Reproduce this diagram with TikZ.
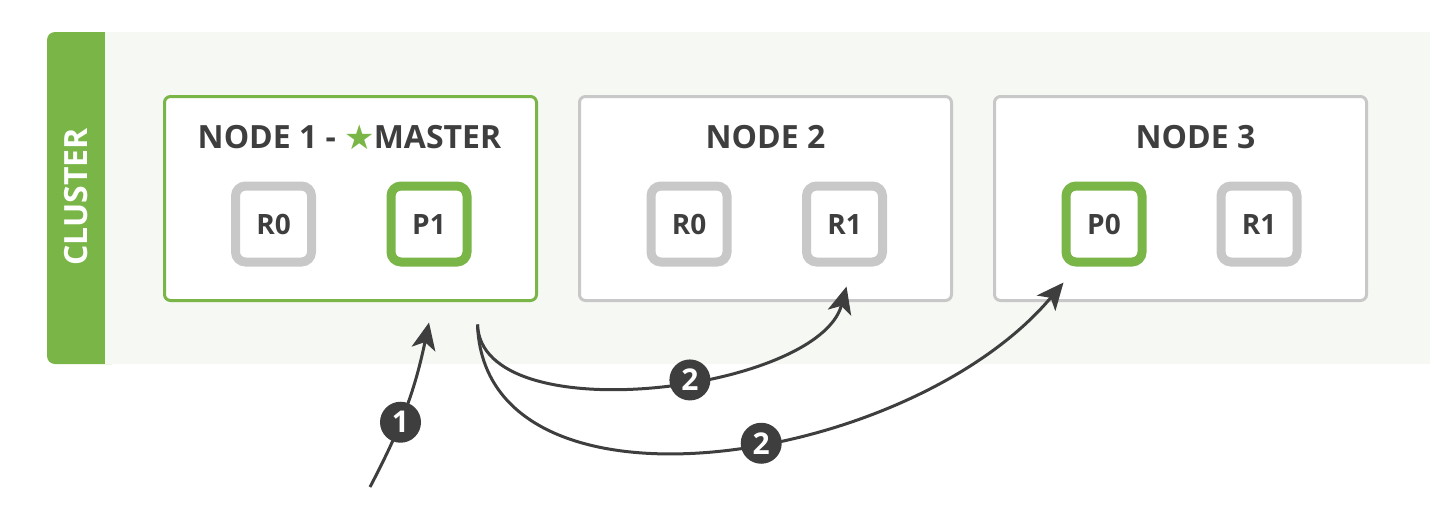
\documentclass[tikz,border=0pt]{standalone}
\usepackage{fontspec}
\setmainfont{Open Sans}
\newfontfamily\symfont{DejaVu Sans}
\usetikzlibrary{positioning,arrows.meta,calc}
\definecolor{esgreen}{RGB}{122,181,72}
\definecolor{esgrey}{RGB}{200,200,200}
\definecolor{esdark}{RGB}{62,62,62}
\definecolor{esbg}{RGB}{246,248,244}
\tikzset{
  fig/.style={font=\bfseries,text=esdark},
  nodebox/.style={draw=esgrey,line width=1.5pt,rounded corners=3pt,fill=white,
                  minimum width=186pt,minimum height=102pt},
  masterbox/.style={nodebox,draw=esgreen},
  shard/.style={draw=esgrey,line width=4.5pt,rounded corners=5pt,fill=white,
                minimum size=38pt,inner sep=0pt,
                font=\fontsize{14}{16}\selectfont\bfseries},
  primary/.style={shard,draw=esgreen},
  ttl/.style={font=\fontsize{16}{18}\selectfont\bfseries,inner sep=0pt},
  ln/.style={-{Stealth[length=13.5pt,width=12pt,inset=3.5pt]},line width=1.5pt,draw=esdark},
  num/.style={circle,fill=esdark,text=white,minimum size=20.5pt,inner sep=0pt,
              font=\fontsize{15}{15}\selectfont\bfseries},
}

\begin{document}
\begin{tikzpicture}[fig,x=0.5pt,y=0.5pt]

\useasboundingbox (0,0) rectangle (1438,-526);
\fill[esgreen,rounded corners=4pt] (47,-32) rectangle (120,-364);
\fill[esbg] (105,-32) rectangle (1430,-364);
\node[ttl,rotate=90,text=white] (clu) at (76,-197) {CLUSTER};

\node[masterbox] (n1) at (350.5,-198.5) {};
\node[nodebox,right=20pt of n1] (n2) {};
\node[nodebox,right=20pt of n2] (n3) {};

\node[ttl] (t1) at ($(n1.north)+(-1,-42)$) {NODE 1 - {\color{esgreen}\symfont\fontsize{17}{17}\selectfont\raisebox{-0.5pt}{★}}\kern-0.5pt MASTER};
\node[ttl] (t2) at ($(n2.north)+(0,-42)$) {NODE 2};
\node[ttl] (t3) at ($(n3.north)+(15,-42)$) {NODE 3};

\node[shard] (n1r0) at ($(n1)+(-77,-25.5)$) {R0};
\node[primary] (n1p1) at ($(n1)+(78.5,-25.5)$) {P1};
\node[shard] (n2r0) at ($(n2)+(-76.5,-25.5)$) {R0};
\node[shard] (n2r1) at ($(n2)+(79,-25.5)$) {R1};
\node[primary] (n3p0) at ($(n3)+(-76.5,-25.5)$) {P0};
\node[shard] (n3r1) at ($(n3)+(78.5,-25.5)$) {R1};

\coordinate (client) at (370,-487);
\coordinate (fwd) at ([xshift=3pt,yshift=-29pt]n1p1.south east);

\draw[ln] (client) to[bend right=8] node[num,pos=0.4]{1} ([yshift=-28pt]n1p1.south);
\draw[ln] (fwd) to[out=-88,in=-105,looseness=0.75] node[num,pos=0.57]{2} ([xshift=1pt,yshift=-10pt]n2r1.south);
\draw[ln] (fwd) to[out=-88,in=-130,out looseness=0.9,in looseness=1.05] node[num,pos=0.56]{2} ([xshift=1pt,yshift=-8pt]n3p0.south west);

\end{tikzpicture}
\end{document}
